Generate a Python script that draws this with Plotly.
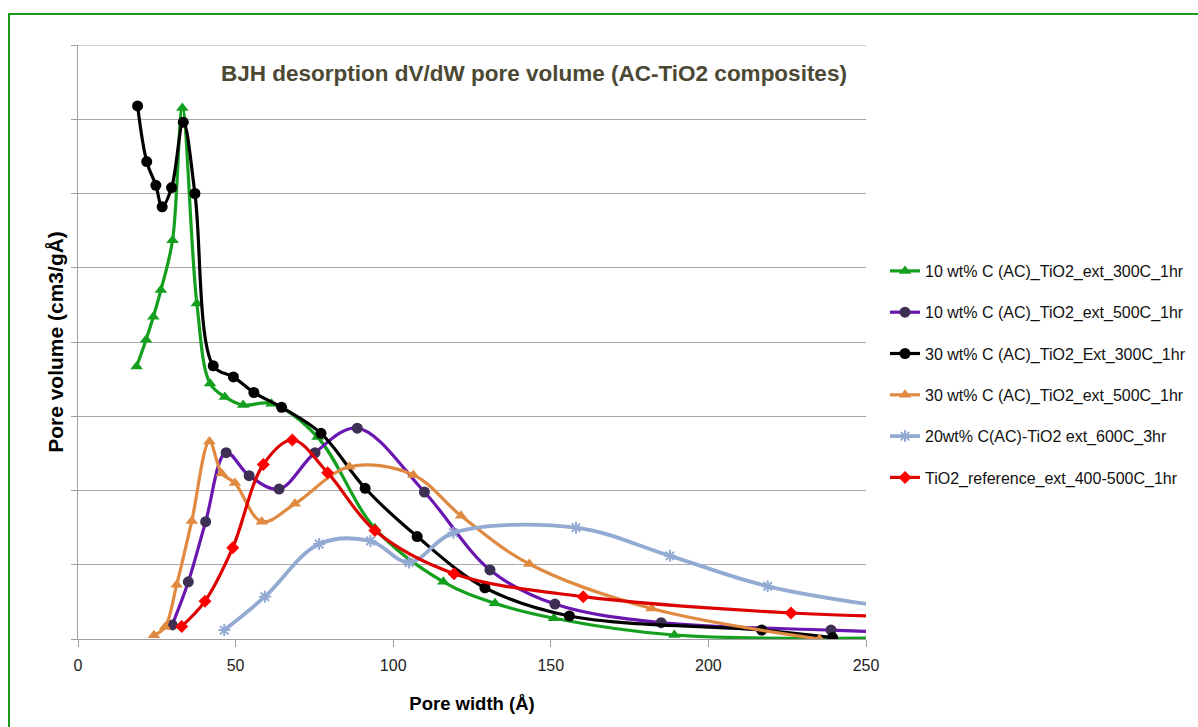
import plotly.graph_objects as go

# Pore width (Å) and pore volume (relative units, one gridline = 1)
x_g = [18.6, 21.6, 23.9, 26.3, 30.0, 33.1, 37.7, 41.9, 46.6, 52.4, 61.4, 76.0, 94.2, 115.9, 132.3, 151.0, 189.2, 265.0]
y_g = [3.67, 4.03, 4.34, 4.70, 5.37, 7.15, 4.52, 3.44, 3.26, 3.15, 3.17, 2.72, 1.49, 0.77, 0.48, 0.28, 0.054, 0.02]

x_p = [29.9, 35.0, 40.5, 47.0, 54.3, 63.8, 75.2, 88.6, 109.9, 130.7, 151.3, 185.0, 238.9, 265.0]
y_p = [0.19, 0.77, 1.58, 2.51, 2.20, 2.02, 2.51, 2.84, 1.98, 0.93, 0.47, 0.22, 0.12, 0.08]

x_k = [18.9, 21.8, 24.7, 26.7, 29.7, 33.4, 37.1, 42.9, 49.3, 55.8, 64.6, 77.1, 91.1, 107.6, 129.1, 155.9, 216.9, 239.4]
y_k = [7.18, 6.43, 6.11, 5.82, 6.08, 6.96, 6.00, 3.68, 3.53, 3.32, 3.12, 2.77, 2.03, 1.38, 0.69, 0.31, 0.12, 0.02]

x_o = [24.1, 27.6, 31.3, 36.1, 41.7, 45.6, 49.8, 58.3, 68.8, 86.1, 106.4, 121.5, 143.2, 182.0, 235.2]
y_o = [0.05, 0.16, 0.73, 1.59, 2.66, 2.23, 2.10, 1.58, 1.82, 2.32, 2.21, 1.66, 1.01, 0.41, 0.0]

x_b = [46.4, 59.3, 76.5, 92.8, 105.0, 119.1, 158.0, 187.8, 218.8, 262.0]
y_b = [0.12, 0.57, 1.28, 1.32, 1.03, 1.43, 1.50, 1.12, 0.71, 0.40]

x_r = [32.9, 40.3, 49.1, 58.8, 68.0, 79.2, 94.2, 119.3, 160.3, 226.2, 265.0]
y_r = [0.17, 0.51, 1.23, 2.35, 2.68, 2.24, 1.46, 0.88, 0.57, 0.35, 0.30]

names = [
    "10 wt% C (AC)_TiO2_ext_300C_1hr",
    "10 wt% C (AC)_TiO2_ext_500C_1hr",
    "30 wt% C (AC)_TiO2_Ext_300C_1hr",
    "30 wt% C (AC)_TiO2_ext_500C_1hr",
    "20wt% C(AC)-TiO2 ext_600C_3hr",
    "TiO2_reference_ext_400-500C_1hr",
]

x_ticks = [0, 50, 100, 150, 200, 250]

series = [
    (x_g, y_g, "#14a01e", "#14a01e", "triangle-up", 11, 3.2),
    (x_p, y_p, "#6a16b0", "#3e3054", "circle", 11, 3.2),
    (x_k, y_k, "#000000", "#000000", "circle", 11, 3.2),
    (x_o, y_o, "#df8a40", "#df8a40", "triangle-up", 11, 3.2),
    (x_b, y_b, "#93abd3", "#93abd3", "asterisk-open", 10, 3.8),
    (x_r, y_r, "#dd0000", "#ff0000", "diamond", 10, 3.2),
]

fig = go.Figure()
for i, (xs, ys, lc, mc, sym, ms, lw) in enumerate(series):
    marker = dict(symbol=sym, size=ms, color=mc)
    if sym == "asterisk-open":
        marker["line"] = dict(color=mc, width=2)
    fig.add_trace(go.Scatter(
        x=xs, y=ys, name=names[i], mode="lines+markers",
        line=dict(color=lc, width=lw, shape="spline", smoothing=1.0),
        marker=marker, legendgroup=str(i), cliponaxis=True,
    ))

W, H = 1198, 727
L, R, T, B = 78, 866, 45, 639

def px_x(p):
    return (p - L) / (R - L)

def px_y(p):
    return (B - p) / (B - T)

fig.update_layout(
    width=W, height=H,
    margin=dict(l=L, r=W - R, t=T, b=H - B, autoexpand=False),
    paper_bgcolor="white", plot_bgcolor="white",
    font=dict(family="Liberation Sans", color="#222222"),
    showlegend=True,
    legend=dict(
        x=px_x(885), y=px_y(254), xanchor="left", yanchor="top",
        font=dict(size=16, color="#111111", family="Liberation Sans"),
        tracegroupgap=17.5, bgcolor="rgba(0,0,0,0)", itemwidth=30,
    ),
    annotations=[
        dict(text="<b>BJH desorption dV/dW pore volume (AC-TiO2 composites)</b>",
             x=px_x(534), y=px_y(73), xref="paper", yref="paper",
             showarrow=False, xanchor="center", yanchor="middle",
             font=dict(size=22.5, color="#4b4834", family="Liberation Sans, Arial")),
    ],
    shapes=[
        dict(type="rect", xref="paper", yref="paper",
             x0=px_x(9), x1=px_x(1230), y0=px_y(760), y1=px_y(14),
             line=dict(color="#1c9a1c", width=2), fillcolor="rgba(0,0,0,0)", layer="below"),
        dict(type="line", xref="paper", yref="y", x0=0, x1=1, y0=8, y1=8,
             line=dict(color="#a8a8a8", width=1), layer="below"),
    ],
)

fig.update_xaxes(
    range=[0, 250], tickvals=x_ticks, ticktext=[str(v) for v in x_ticks],
    showgrid=False, zeroline=False,
    showline=True, linecolor="#a0a0a0", linewidth=1,
    ticks="outside", ticklen=7, tickcolor="#a0a0a0", ticklabelstandoff=5,
    tickfont=dict(size=16, color="#222222", family="Liberation Sans"),
    title=dict(text="<b>Pore width (Å)</b>", font=dict(size=18.5, color="#000000", family="Liberation Sans, Arial"), standoff=23),
)
fig.update_yaxes(
    range=[0, 8], dtick=1, showticklabels=False,
    showgrid=True, gridcolor="#a8a8a8", gridwidth=1, zeroline=False,
    showline=True, linecolor="#a0a0a0", linewidth=1,
    ticks="outside", ticklen=6, tickcolor="#a0a0a0",
    title=dict(text="<b>Pore volume (cm3/gÅ)</b>", font=dict(size=21, color="#000000", family="Liberation Sans, Arial"), standoff=1),
)

fig.write_html("out.html")
